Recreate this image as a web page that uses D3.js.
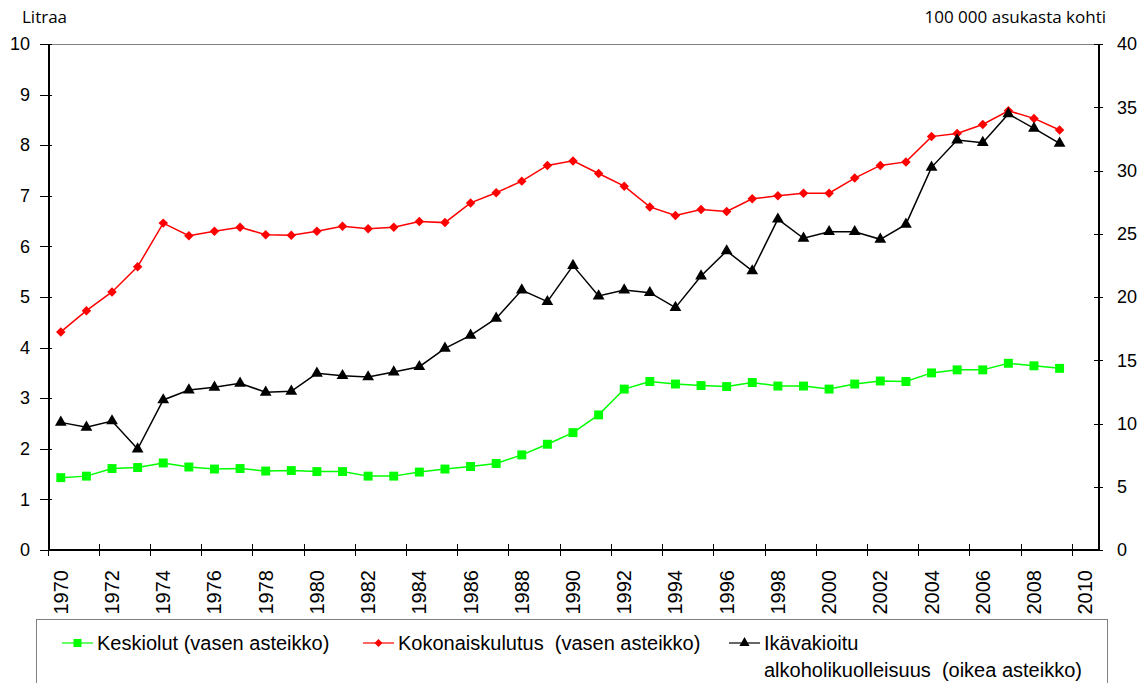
<!DOCTYPE html>
<html>
<head>
    <meta charset="UTF-8">
    <title></title>
    <script src="https://cdn.jsdelivr.net/npm/d3@7"></script>
    <style>
        body{
            padding: 0;
            margin: 0;
            background: #fff;
        }
        .axis path,
        .axis line{
            fill: none;
            stroke: black;
            stroke-width: 2px;
            shape-rendering: crispEdges;
        }
        .axis text{
            font-family: "Liberation Sans", Arial, sans-serif;
            font-size: 18px;
            fill: #000;
        }
        .axis .xlabel{
            font-size: 20px;
        }
        .unit{
            font-family: "Open Sans", sans-serif;
            font-size: 17px;
            fill: #000;
        }
        .legend text{
            font-family: "Liberation Sans", Arial, sans-serif;
            font-size: 20px;
            fill: #000;
            white-space: pre;
        }
    </style>
</head>
<body>
<script>

    // vuodet 1970-2010 (2010 vain akselilla)
    var years = d3.range(1970, 2011);
    var dataYears = d3.range(1970, 2010);

    var keskiolut = [1.43,1.46,1.61,1.63,1.72,1.64,1.60,1.61,1.56,1.57,
        1.55,1.55,1.46,1.46,1.54,1.60,1.65,1.71,1.88,2.09,
        2.32,2.67,3.18,3.33,3.28,3.25,3.23,3.31,3.24,3.24,
        3.18,3.28,3.34,3.33,3.50,3.56,3.56,3.69,3.64,3.59];

    var kokonais = [4.31,4.73,5.10,5.60,6.46,6.21,6.30,6.38,6.23,6.22,
        6.30,6.40,6.35,6.38,6.49,6.47,6.86,7.06,7.29,7.60,
        7.69,7.44,7.19,6.78,6.61,6.73,6.69,6.94,7.00,7.05,
        7.05,7.35,7.60,7.67,8.17,8.23,8.41,8.68,8.53,8.30];

    var kuolleisuus = [10.09,9.70,10.20,7.98,11.86,12.65,12.86,13.18,12.47,12.55,
        13.97,13.78,13.68,14.07,14.49,15.94,16.97,18.31,20.55,19.63,
        22.48,20.08,20.55,20.34,19.16,21.66,23.64,22.06,26.15,24.64,
        25.16,25.16,24.56,25.74,30.25,32.41,32.20,34.47,33.33,32.15];

    var leftTicks = [0,1,2,3,4,5,6,7,8,9,10];
    var rightTicks = [0,5,10,15,20,25,30,35,40];

    var W = 1148, H = 683;
    var pLeft = 48, pRight = 1098, pTop = 44, pBottom = 550;

    var svg = d3.select("body")
        .append("svg")
        .attr("width", W)
        .attr("height", H);

    var x = d3.scaleBand()
        .domain(years)
        .range([pLeft, pRight]);

    var yL = d3.scaleLinear()   // litraa
        .domain([0, 10])
        .range([pBottom, pTop]);

    var yR = d3.scaleLinear()   // 100 000 asukasta kohti
        .domain([0, 40])
        .range([pBottom, pTop]);

    // piirtoalueen reunus
    svg.append("rect")
        .attr("x", pLeft)
        .attr("y", pTop)
        .attr("width", pRight - pLeft)
        .attr("height", pBottom - pTop)
        .attr("fill", "none")
        .attr("stroke", "#808080")
        .attr("stroke-width", 1)
        .attr("shape-rendering", "crispEdges");

    // vasen akseli
    var axisL = d3.axisLeft(yL)
        .tickValues(leftTicks)
        .tickSizeInner(8)
        .tickSizeOuter(0)
        .tickPadding(10);

    var gL = svg.append("g")
        .attr("class", "axis")
        .attr("transform", "translate(" + pLeft + ",0)")
        .call(axisL);
    gL.selectAll(".tick line").attr("x2", -8).attr("x1", 4).style("stroke-width", "1px");

    // oikea akseli
    var axisR = d3.axisRight(yR)
        .tickValues(rightTicks)
        .tickSizeInner(8)
        .tickSizeOuter(0)
        .tickPadding(11);

    var gR = svg.append("g")
        .attr("class", "axis")
        .attr("transform", "translate(" + pRight + ",0)")
        .call(axisR);
    gR.selectAll(".tick line").attr("x1", -4).attr("x2", 5).style("stroke-width", "1px");

    // x-akseli: viivat luokkien rajoilla joka toisen vuoden välein
    var gX = svg.append("g")
        .attr("class", "axis")
        .attr("transform", "translate(0," + pBottom + ")");

    gX.append("line")
        .attr("x1", pLeft)
        .attr("x2", pRight)
        .attr("y1", 0)
        .attr("y2", 0);

    var evenYears = years.filter(function(d){ return (d - 1970) % 2 === 0; });

    gX.selectAll(".xtick")
        .data(evenYears)
        .enter()
        .append("line")
        .attr("class", "xtick")
        .attr("x1", function(d){ return x(d); })
        .attr("x2", function(d){ return x(d); })
        .attr("y1", -6)
        .attr("y2", 6)
        .style("stroke-width", "1px");

    gX.selectAll(".xlabel")
        .data(evenYears)
        .enter()
        .append("text")
        .attr("class", "xlabel")
        .attr("text-anchor", "end")
        .attr("transform", function(d){
            return "translate(" + (x(d) + x.bandwidth() / 2) + ",20) rotate(-90)";
        })
        .attr("dy", "0.35em")
        .text(function(d){ return d; });

    // yksikkötekstit
    svg.append("text")
        .attr("class", "unit")
        .attr("x", 22)
        .attr("y", 23)
        .text("Litraa");

    svg.append("text")
        .attr("class", "unit")
        .attr("x", 1106)
        .attr("y", 23)
        .attr("text-anchor", "end")
        .text("100 000 asukasta kohti");

    var cx = function(d, i){ return x(dataYears[i]) + x.bandwidth() / 2; };

    var lineL = d3.line()
        .x(cx)
        .y(function(d){ return yL(d); });

    var lineR = d3.line()
        .x(cx)
        .y(function(d){ return yR(d); });

    var sqr = d3.symbol().type(d3.symbolSquare).size(80);
    var dia = d3.symbol().type(d3.symbolSquare).size(45);
    var tri = d3.symbol().type(d3.symbolTriangle).size(60);

    // Keskiolut
    svg.append("path")
        .datum(keskiolut)
        .attr("fill", "none")
        .attr("stroke", "#00ff00")
        .attr("stroke-width", 1.5)
        .attr("d", lineL);

    svg.selectAll(".sq")
        .data(keskiolut)
        .enter()
        .append("path")
        .attr("class", "sq")
        .attr("transform", function(d, i){ return "translate(" + cx(d, i) + "," + yL(d) + ")"; })
        .attr("d", sqr)
        .attr("fill", "#00ff00");

    // Kokonaiskulutus
    svg.append("path")
        .datum(kokonais)
        .attr("fill", "none")
        .attr("stroke", "#ff0000")
        .attr("stroke-width", 1.5)
        .attr("d", lineL);

    svg.selectAll(".dia")
        .data(kokonais)
        .enter()
        .append("path")
        .attr("class", "dia")
        .attr("transform", function(d, i){ return "translate(" + cx(d, i) + "," + yL(d) + ") rotate(45)"; })
        .attr("d", dia)
        .attr("fill", "#ff0000");

    // Ikävakioitu alkoholikuolleisuus
    svg.append("path")
        .datum(kuolleisuus)
        .attr("fill", "none")
        .attr("stroke", "#000")
        .attr("stroke-width", 1.5)
        .attr("d", lineR);

    svg.selectAll(".tri")
        .data(kuolleisuus)
        .enter()
        .append("path")
        .attr("class", "tri")
        .attr("transform", function(d, i){ return "translate(" + cx(d, i) + "," + yR(d) + ")"; })
        .attr("d", tri)
        .attr("fill", "#000");

    // selite
    var lg = svg.append("g").attr("class", "legend");

    lg.append("rect")
        .attr("x", 36.5)
        .attr("y", 619.5)
        .attr("width", 1071)
        .attr("height", 100)
        .attr("fill", "#fff")
        .attr("stroke", "#808080")
        .attr("stroke-width", 1);

    var items = [
        {x: 62, color: "#00ff00", shape: "sq", lines: ["Keskiolut (vasen asteikko)"]},
        {x: 363, color: "#ff0000", shape: "dia", lines: ["Kokonaiskulutus  (vasen asteikko)"]},
        {x: 729, color: "#000", shape: "tri", lines: ["Ikävakioitu", "alkoholikuolleisuus  (oikea asteikko)"]}
    ];

    items.forEach(function(it){
        lg.append("line")
            .attr("x1", it.x)
            .attr("x2", it.x + 31)
            .attr("y1", 643)
            .attr("y2", 643)
            .attr("stroke", it.color)
            .attr("stroke-width", 1.2);
        var m = lg.append("path").attr("fill", it.color);
        if(it.shape === "sq"){
            m.attr("d", d3.symbol().type(d3.symbolSquare).size(64)())
                .attr("transform", "translate(" + (it.x + 15.5) + ",643)");
        }else if(it.shape === "dia"){
            m.attr("d", d3.symbol().type(d3.symbolSquare).size(32)())
                .attr("transform", "translate(" + (it.x + 15.5) + ",643) rotate(45)");
        }else{
            m.attr("d", d3.symbol().type(d3.symbolTriangle).size(45)())
                .attr("transform", "translate(" + (it.x + 15.5) + ",643)");
        }
        it.lines.forEach(function(t, j){
            lg.append("text")
                .attr("x", it.x + 35)
                .attr("y", 650 + j * 27)
                .text(t);
        });
    });

</script>
</body>
</html>
